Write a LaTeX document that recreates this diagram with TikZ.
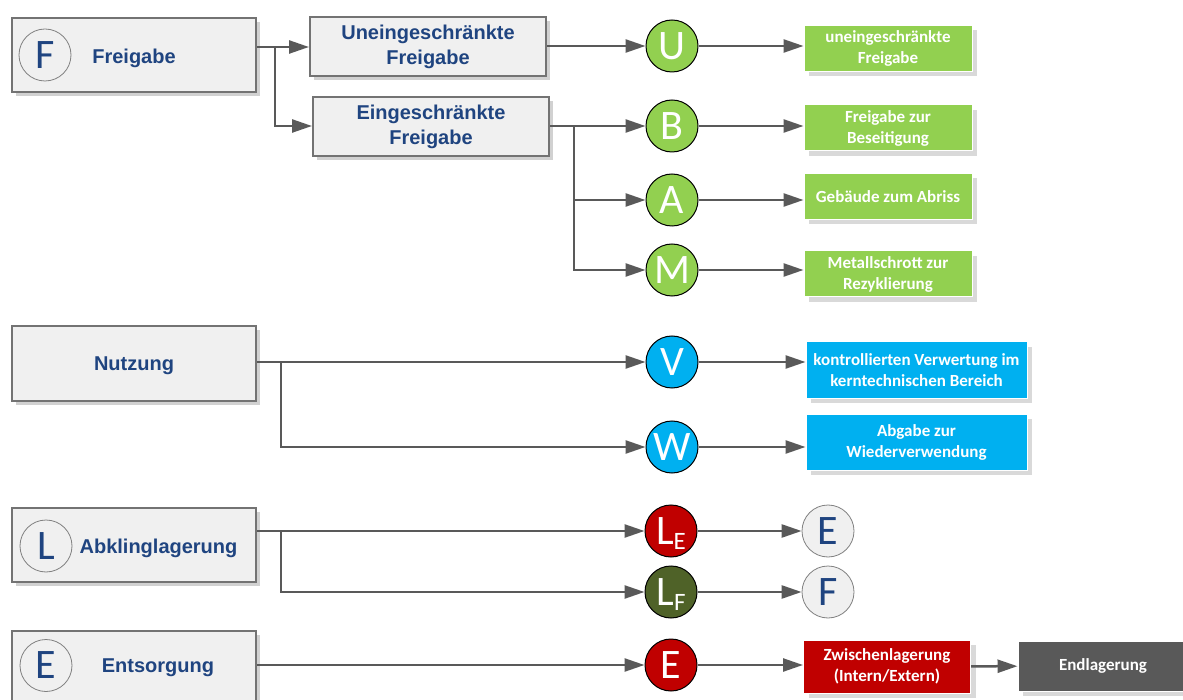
\documentclass[tikz,border=0pt]{standalone}
\usepackage{fontspec}
\setmainfont{Liberation Sans}
\newfontfamily\calibri{Carlito}
\usetikzlibrary{arrows.meta,shadows}
\definecolor{hdblue}{RGB}{31,68,128}
\definecolor{boxgray}{RGB}{240,240,240}
\definecolor{linegray}{RGB}{89,89,89}
\definecolor{frgreen}{RGB}{146,208,80}
\definecolor{nzblue}{RGB}{0,176,240}
\definecolor{darkred}{RGB}{192,0,0}
\definecolor{darkolive}{RGB}{79,98,40}
\newcommand\lsub[1]{\raisebox{-5pt}[0pt][0pt]{\fontsize{25}{25}\selectfont #1}}
\tikzset{
  arr/.style={draw=linegray, line width=2.5pt, -{Triangle[length=20pt,width=13pt]}},
  mainbox/.style={draw=black!55, line width=2pt, fill=boxgray, minimum width=244pt, minimum height=74pt,
    drop shadow={shadow xshift=4pt, shadow yshift=-4pt, fill=black!18, opacity=1}},
  headtxt/.style={text=hdblue, align=center, font=\fontsize{20}{25}\selectfont\bfseries},
  subbox/.style={mainbox, headtxt, minimum width=236pt, minimum height=59pt},
  letterring/.style={circle, draw=black!50, line width=0.8pt, minimum size=52pt, inner sep=0pt,
    text=hdblue, font=\calibri\fontsize{42}{42}\selectfont},
  endring/.style={letterring, fill=boxgray},
  dot/.style={circle, draw=black, line width=1pt, fill=#1, minimum size=52pt, inner sep=0pt,
    text=white, font=\calibri\fontsize{42}{42}\selectfont},
  colbox/.style={draw=white, line width=1pt, fill=#1, text=white, align=center, inner sep=0pt,
    font=\calibri\fontsize{17}{21}\selectfont\bfseries,
    drop shadow={shadow xshift=5pt, shadow yshift=-5pt, fill=black!15, opacity=1}}
}
\begin{document}
\begin{tikzpicture}[x=1pt,y=-1pt]
\useasboundingbox (0,0) rectangle (1183,700);
% Freigabe
\node[mainbox] (frei) at (134,55) {};
\node[letterring] (freiring) at (45,55) {F};
\node[headtxt] (freitxt) at (134,58) {Freigabe};
\node[subbox] (uneing) at (428,47) {Uneingeschränkte\\Freigabe};
\node[subbox] (eing) at (431,127) {Eingeschränkte\\Freigabe};
\node[dot=frgreen] (U) at (672,46) {U};
\node[dot=frgreen] (B) at (672,126) {B};
\node[dot=frgreen] (A) at (672,200) {A};
\node[dot=frgreen] (M) at (672,270) {M};
\node[colbox=frgreen, minimum width=168pt, minimum height=46pt] (ubox) at (888,48.5) {uneingeschränkte\\Freigabe};
\node[colbox=frgreen, minimum width=168pt, minimum height=46pt] (bbox) at (888,128) {Freigabe zur\\Beseitigung};
\node[colbox=frgreen, minimum width=168pt, minimum height=46pt] (abox) at (888,196.5) {Gebäude zum Abriss};
\node[colbox=frgreen, minimum width=168pt, minimum height=46pt] (mbox) at (888,274) {Metallschrott zur\\Rezyklierung};
\coordinate (fb) at (275,47);
\coordinate (eb) at (574,126);
\draw[arr] (frei.east |- fb) -- (uneing.west |- fb);
\draw[arr] (fb) |- (eing.west |- eb);
\draw[arr] (uneing.east |- U) -- (U);
\draw[arr] (eing.east |- eb) -- (B);
\draw[arr] (eb) |- (A);
\draw[arr] (eb) |- (M);
\draw[arr] (U) -- (U -| ubox.west);
\draw[arr] (B) -- (B -| bbox.west);
\draw[arr] (A) -- (A -| abox.west);
\draw[arr] (M) -- (M -| mbox.west);
% Nutzung
\node[mainbox] (nutz) at (134,363.5) {};
\node[headtxt] (nutztxt) at (134,366) {Nutzung};
\node[dot=nzblue] (V) at (672,362) {V};
\node[dot=nzblue] (W) at (672,447) {W};
\node[colbox=nzblue, minimum width=221pt, minimum height=56pt] (vbox) at (916.5,370) {kontrollierten Verwertung im\\kerntechnischen Bereich};
\node[colbox=nzblue, minimum width=221pt, minimum height=56pt] (wbox) at (916.5,442) {Abgabe zur\\Wiederverwendung};
\coordinate (nb) at (281,362);
\draw[arr] (nutz.east |- V) -- (V);
\draw[arr] (nb) |- (W);
\draw[arr] (V) -- (V -| vbox.west);
\draw[arr] (W) -- (W -| wbox.west);
% Abklinglagerung
\node[mainbox] (abk) at (134,544.5) {};
\node[letterring] (abkring) at (46,546) {L};
\node[headtxt] (abktxt) at (158.5,548) {Abklinglagerung};
\node[dot=darkred] (LE) at (671,531) {L\lsub{E}};
\node[dot=darkolive] (LF) at (671,592) {L\lsub{F}};
\node[endring] (Eg) at (828,531) {E};
\node[endring] (Fg) at (828,592) {F};
\coordinate (ab) at (281,531);
\draw[arr] (abk.east |- LE) -- (LE);
\draw[arr] (ab) |- (LF);
\draw[arr] (LE) -- (Eg);
\draw[arr] (LF) -- (Fg);
% Entsorgung
\node[mainbox] (ents) at (134,668) {};
\node[letterring] (entsring) at (46,665.5) {E};
\node[headtxt] (entstxt) at (158,668) {Entsorgung};
\node[dot=darkred] (Er) at (671,665) {E};
\node[colbox=darkred, minimum width=167pt, minimum height=53pt] (zwl) at (887,666.5) {Zwischenlagerung\\(Intern/Extern)};
\node[colbox=black!65, minimum width=170pt, minimum height=50pt] (endl) at (1103,666) {Endlagerung};
\draw[arr] (ents.east |- Er) -- (Er);
\draw[arr] (Er) -- (Er -| zwl.west);
\draw[arr] (zwl) -- (endl);
\end{tikzpicture}
\end{document}
